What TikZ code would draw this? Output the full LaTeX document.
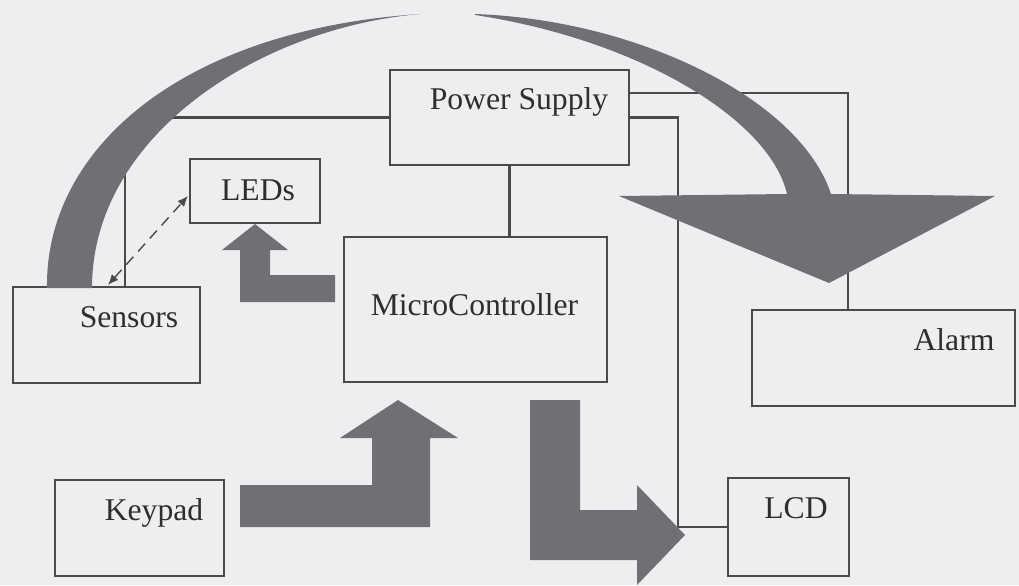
\documentclass[tikz,border=0pt]{standalone}
\usepackage{fontspec}
\setmainfont{Liberation Serif}
\usetikzlibrary{arrows.meta,calc}
\definecolor{paper}{HTML}{EFEDF0}
\definecolor{wirecol}{HTML}{4A4A4A}
\definecolor{blockgray}{HTML}{707074}
\definecolor{inkcol}{HTML}{2E2E2E}

\begin{document}
\begin{tikzpicture}[
  x=0.01cm, y=-0.01cm,
  font=\fontsize{9pt}{11pt}\selectfont,
  unitbox/.style={
    draw=wirecol,
    line width=0.6pt,
    inner sep=0pt,
    outer sep=0pt
  },
  unittext/.style={
    anchor=base,
    inner sep=0pt,
    text=inkcol
  },
  wire/.style={
    draw=wirecol,
    line width=0.6pt
  },
  bigarrow/.style={
    fill=blockgray,
    draw=none
  }
]
  \useasboundingbox (0,0) rectangle (1019,585);
  \clip (0,0) rectangle (1019,585);
  \fill[paper] (0,0) rectangle (1019,585);

  % --- Blocks ---
  \node[unitbox, minimum width=2.39cm, minimum height=0.95cm] (psu) at (509.5,117.5) {};
  \node[unitbox, minimum width=1.30cm, minimum height=0.64cm] (leds) at (255,191) {};
  \node[unitbox, minimum width=2.63cm, minimum height=1.45cm] (mcu) at (475.5,309.5) {};
  \node[unitbox, minimum width=1.87cm, minimum height=0.96cm] (sensors) at (106.5,335) {};
  \node[unitbox, minimum width=1.69cm, minimum height=0.96cm] (keypad) at (139.5,528) {};
  \node[unitbox, minimum width=2.63cm, minimum height=0.96cm] (alarm) at (883.5,358) {};
  \node[unitbox, minimum width=1.21cm, minimum height=0.98cm] (lcd) at (788.5,527) {};

  % --- Block labels ---
  \node[unittext] (psuT) at (519,110) {Power Supply};
  \node[unittext] (ledsT) at (258,200) {LEDs};
  \node[unittext] (mcuT) at (474.5,315) {MicroController};
  \node[unittext] (sensorsT) at (129,327) {Sensors};
  \node[unittext] (keypadT) at (154,520) {Keypad};
  \node[unittext] (alarmT) at (954,350) {Alarm};
  \node[unittext] (lcdT) at (796,518) {LCD};

  % --- Supply wires (the two left ends run in under the curved arrow) ---
  \coordinate (psuTap) at (155,117.5);
  \coordinate (sensorsTap) at (125,157);
  \draw[wire] (psu.west) -- (psuTap);
  \draw[wire] (sensorsTap) -- (sensorsTap |- sensors.north);
  \draw[wire] (psu.south) -- (psu.south |- mcu.north);
  \draw[wire] ($(psu.east)+(0,-24.5)$) -| ($(alarm.north west)+(96,0)$);
  \draw[wire] (psu.east) -- ++(49,0) |- (lcd.west);

  % Sensors <-> LEDs
  \draw[wire, line width=0.4pt, densely dashed,
        {Latex[length=3pt,width=2.5pt]}-{Latex[length=3pt,width=2.5pt]}]
    ($(sensors.north west)+(95,-2)$) -- ($(leds.west)+(-2,5)$);

  % --- Block arrows ---
  % sensors over the top to the alarm
  \fill[bigarrow] (47,288) .. controls (45,150) and (180,30) .. (420,14)
    .. controls (260,28) and (92,135) .. (92,288) -- cycle
    (475,14) .. controls (640,20) and (800,100) .. (831,194)
    -- (995,196) -- (829,283) -- (619,196) -- (787,194)
    .. controls (770,120) and (640,40) .. (475,15) -- cycle;

  % microcontroller to LEDs
  \fill[bigarrow] (335,275) -- (270,275) -- (270,250) -- (288,250) -- (255,224)
    -- (222,250) -- (240,250) -- (240,302) -- (335,302) -- cycle;

  % keypad to microcontroller
  \fill[bigarrow] (240,485) -- (372,485) -- (372,438) -- (340,438) -- (398,400)
    -- (458,438) -- (430,438) -- (430,527) -- (240,527) -- cycle;

  % microcontroller to LCD
  \fill[bigarrow] (530,400) -- (580,400) -- (580,510) -- (637,510) -- (637,485)
    -- (685,535) -- (637,585) -- (637,560) -- (530,560) -- cycle;

\end{tikzpicture}
\end{document}
